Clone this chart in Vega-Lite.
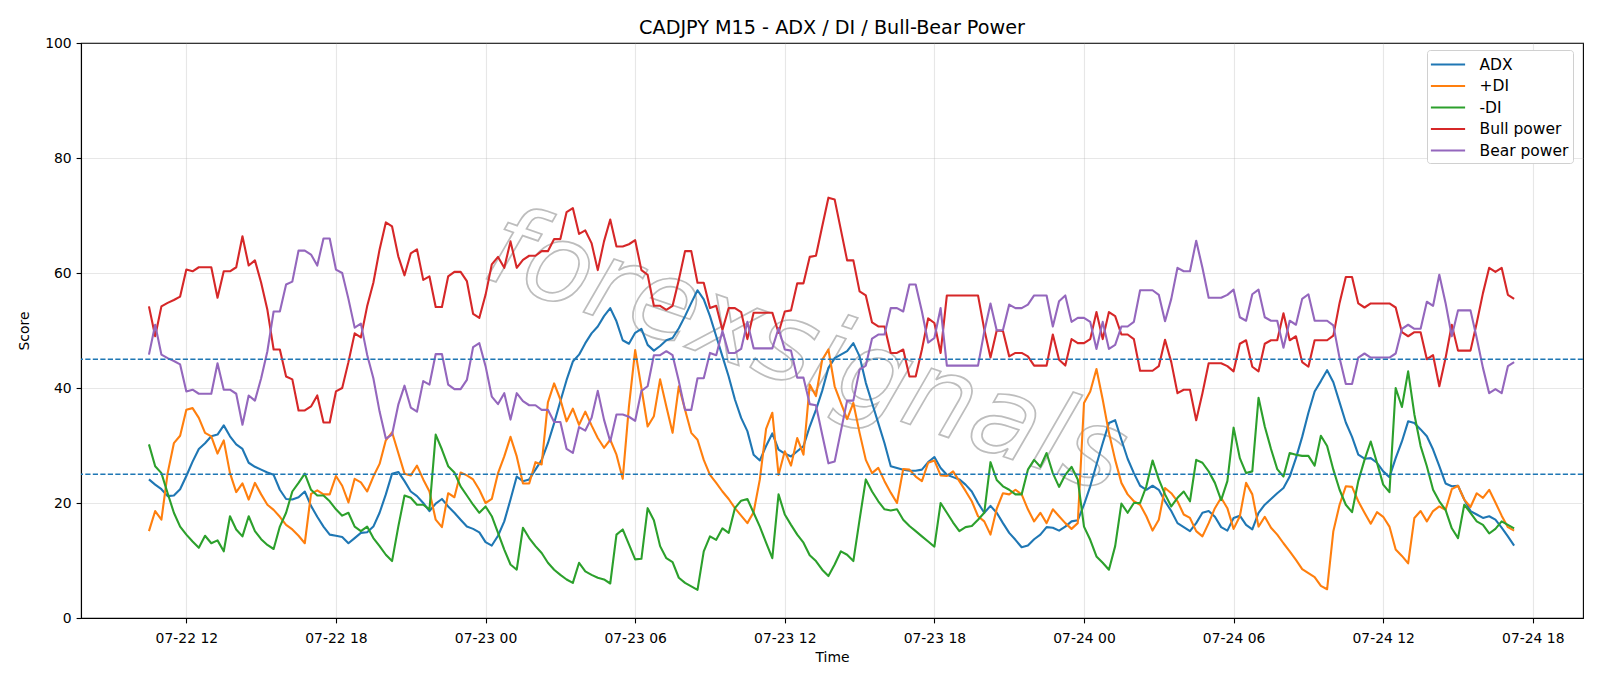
{
"$schema": "https://vega.github.io/schema/vega-lite/v6.json",
"width": 1502, "height": 575,
"autosize": {"type": "none"},
"padding": {"left": 81, "top": 43, "right": 17, "bottom": 68},
"background": "white",
"title": {"text": "CADJPY M15 - ADX / DI / Bull-Bear Power", "fontSize": 19.2, "font": "DejaVu Sans", "fontWeight": "normal", "color": "black", "anchor": "middle", "offset": -17, "baseline": "alphabetic"},
"config": {
  "font": "DejaVu Sans",
  "view": {"stroke": "black", "strokeWidth": 1.1},
  "axis": {"labelFont": "DejaVu Sans", "labelFontSize": 13.9, "labelColor": "black", "titleFont": "DejaVu Sans", "titleFontSize": 13.9, "titleFontWeight": "normal", "titleColor": "black", "tickColor": "black", "tickSize": 4.9, "tickWidth": 1.1, "domainColor": "black", "domainWidth": 1.1, "gridColor": "#b0b0b0", "gridOpacity": 0.3, "gridWidth": 1.1, "labelPadding": 4.9}
},
"datasets": {"d": [
{"t":"2025-07-22T10:30","adx":24.1,"pdi":15.1,"mdi":30.2,"bull":54.2,"bear":45.8},
{"t":"2025-07-22T10:45","adx":23.2,"pdi":18.6,"mdi":26.4,"bull":49.0,"bear":51.0},
{"t":"2025-07-22T11:00","adx":22.4,"pdi":17.1,"mdi":25.2,"bull":54.2,"bear":45.8},
{"t":"2025-07-22T11:15","adx":21.2,"pdi":25.2,"mdi":21.7,"bull":54.8,"bear":45.2},
{"t":"2025-07-22T11:30","adx":21.3,"pdi":30.4,"mdi":18.3,"bull":55.3,"bear":44.7},
{"t":"2025-07-22T11:45","adx":22.4,"pdi":31.7,"mdi":15.9,"bull":55.9,"bear":44.1},
{"t":"2025-07-22T12:00","adx":24.7,"pdi":36.2,"mdi":14.5,"bull":60.6,"bear":39.4},
{"t":"2025-07-22T12:15","adx":27.2,"pdi":36.5,"mdi":13.3,"bull":60.3,"bear":39.7},
{"t":"2025-07-22T12:30","adx":29.4,"pdi":34.8,"mdi":12.2,"bull":61.0,"bear":39.0},
{"t":"2025-07-22T12:45","adx":30.4,"pdi":32.2,"mdi":14.3,"bull":61.0,"bear":39.0},
{"t":"2025-07-22T13:00","adx":31.6,"pdi":31.6,"mdi":13.0,"bull":61.0,"bear":39.0},
{"t":"2025-07-22T13:15","adx":31.9,"pdi":28.6,"mdi":13.5,"bull":55.7,"bear":44.3},
{"t":"2025-07-22T13:30","adx":33.5,"pdi":30.9,"mdi":11.6,"bull":60.3,"bear":39.7},
{"t":"2025-07-22T13:45","adx":31.6,"pdi":25.2,"mdi":17.7,"bull":60.3,"bear":39.7},
{"t":"2025-07-22T14:00","adx":30.2,"pdi":21.9,"mdi":15.4,"bull":61.0,"bear":39.0},
{"t":"2025-07-22T14:15","adx":29.4,"pdi":23.4,"mdi":14.2,"bull":66.4,"bear":33.6},
{"t":"2025-07-22T14:30","adx":27.0,"pdi":20.6,"mdi":17.7,"bull":61.3,"bear":38.7},
{"t":"2025-07-22T14:45","adx":26.3,"pdi":23.5,"mdi":15.1,"bull":62.2,"bear":37.8},
{"t":"2025-07-22T15:00","adx":25.8,"pdi":21.5,"mdi":13.7,"bull":58.3,"bear":41.7},
{"t":"2025-07-22T15:15","adx":25.3,"pdi":19.7,"mdi":12.7,"bull":53.6,"bear":46.4},
{"t":"2025-07-22T15:30","adx":24.9,"pdi":18.8,"mdi":12.0,"bull":46.7,"bear":53.3},
{"t":"2025-07-22T15:45","adx":22.3,"pdi":17.6,"mdi":15.9,"bull":46.7,"bear":53.3},
{"t":"2025-07-22T16:00","adx":20.7,"pdi":16.2,"mdi":18.3,"bull":42.0,"bear":58.0},
{"t":"2025-07-22T16:15","adx":20.6,"pdi":15.4,"mdi":22.0,"bull":41.5,"bear":58.5},
{"t":"2025-07-22T16:30","adx":21.0,"pdi":14.3,"mdi":23.5,"bull":36.1,"bear":63.9},
{"t":"2025-07-22T16:45","adx":22.0,"pdi":13.0,"mdi":25.1,"bull":36.1,"bear":63.9},
{"t":"2025-07-22T17:00","adx":19.5,"pdi":21.6,"mdi":22.3,"bull":36.8,"bear":63.2},
{"t":"2025-07-22T17:15","adx":17.6,"pdi":22.2,"mdi":21.3,"bull":38.7,"bear":61.3},
{"t":"2025-07-22T17:30","adx":15.9,"pdi":21.5,"mdi":21.3,"bull":34.0,"bear":66.0},
{"t":"2025-07-22T17:45","adx":14.5,"pdi":21.5,"mdi":20.3,"bull":34.0,"bear":66.0},
{"t":"2025-07-22T18:00","adx":14.3,"pdi":24.7,"mdi":18.9,"bull":39.4,"bear":60.6},
{"t":"2025-07-22T18:15","adx":14.1,"pdi":23.0,"mdi":17.8,"bull":40.0,"bear":60.0},
{"t":"2025-07-22T18:30","adx":13.0,"pdi":20.1,"mdi":18.3,"bull":44.5,"bear":55.5},
{"t":"2025-07-22T18:45","adx":13.9,"pdi":24.2,"mdi":15.9,"bull":49.5,"bear":50.5},
{"t":"2025-07-22T19:00","adx":14.8,"pdi":23.6,"mdi":15.1,"bull":48.8,"bear":51.2},
{"t":"2025-07-22T19:15","adx":14.9,"pdi":22.0,"mdi":15.9,"bull":54.2,"bear":45.8},
{"t":"2025-07-22T19:30","adx":15.9,"pdi":24.6,"mdi":13.9,"bull":58.3,"bear":41.7},
{"t":"2025-07-22T19:45","adx":18.3,"pdi":26.8,"mdi":12.5,"bull":64.1,"bear":35.9},
{"t":"2025-07-22T20:00","adx":21.5,"pdi":30.9,"mdi":11.0,"bull":68.8,"bear":31.2},
{"t":"2025-07-22T20:15","adx":25.1,"pdi":32.3,"mdi":9.9,"bull":68.1,"bear":31.9},
{"t":"2025-07-22T20:30","adx":25.4,"pdi":28.7,"mdi":15.9,"bull":62.9,"bear":37.1},
{"t":"2025-07-22T20:45","adx":23.8,"pdi":25.1,"mdi":21.3,"bull":59.6,"bear":40.4},
{"t":"2025-07-22T21:00","adx":22.0,"pdi":24.8,"mdi":20.9,"bull":63.4,"bear":36.6},
{"t":"2025-07-22T21:15","adx":21.2,"pdi":26.5,"mdi":19.7,"bull":64.1,"bear":35.9},
{"t":"2025-07-22T21:30","adx":20.0,"pdi":24.1,"mdi":19.7,"bull":58.8,"bear":41.2},
{"t":"2025-07-22T21:45","adx":18.6,"pdi":22.0,"mdi":18.9,"bull":59.4,"bear":40.6},
{"t":"2025-07-22T22:00","adx":19.9,"pdi":17.1,"mdi":31.9,"bull":54.1,"bear":45.9},
{"t":"2025-07-22T22:15","adx":20.7,"pdi":15.8,"mdi":29.3,"bull":54.1,"bear":45.9},
{"t":"2025-07-22T22:30","adx":19.4,"pdi":21.7,"mdi":26.4,"bull":59.4,"bear":40.6},
{"t":"2025-07-22T22:45","adx":18.3,"pdi":21.0,"mdi":25.3,"bull":60.2,"bear":39.8},
{"t":"2025-07-22T23:00","adx":17.1,"pdi":25.3,"mdi":22.9,"bull":60.2,"bear":39.8},
{"t":"2025-07-22T23:15","adx":15.9,"pdi":24.8,"mdi":21.3,"bull":58.6,"bear":41.4},
{"t":"2025-07-22T23:30","adx":15.5,"pdi":24.1,"mdi":19.7,"bull":52.9,"bear":47.1},
{"t":"2025-07-22T23:45","adx":14.9,"pdi":22.3,"mdi":18.3,"bull":52.2,"bear":47.8},
{"t":"2025-07-23T00:00","adx":13.2,"pdi":20.0,"mdi":19.4,"bull":56.2,"bear":43.8},
{"t":"2025-07-23T00:15","adx":12.6,"pdi":20.7,"mdi":17.7,"bull":61.5,"bear":38.5},
{"t":"2025-07-23T00:30","adx":14.3,"pdi":25.2,"mdi":14.8,"bull":62.8,"bear":37.2},
{"t":"2025-07-23T00:45","adx":16.8,"pdi":28.1,"mdi":11.9,"bull":60.9,"bear":39.1},
{"t":"2025-07-23T01:00","adx":20.6,"pdi":31.5,"mdi":9.3,"bull":65.5,"bear":34.5},
{"t":"2025-07-23T01:15","adx":24.6,"pdi":28.1,"mdi":8.4,"bull":60.9,"bear":39.1},
{"t":"2025-07-23T01:30","adx":23.8,"pdi":23.4,"mdi":15.7,"bull":62.3,"bear":37.7},
{"t":"2025-07-23T01:45","adx":24.1,"pdi":23.4,"mdi":13.9,"bull":63.0,"bear":37.0},
{"t":"2025-07-23T02:00","adx":25.8,"pdi":27.1,"mdi":12.5,"bull":63.0,"bear":37.0},
{"t":"2025-07-23T02:15","adx":27.5,"pdi":26.7,"mdi":11.3,"bull":63.8,"bear":36.2},
{"t":"2025-07-23T02:30","adx":30.4,"pdi":37.5,"mdi":9.6,"bull":63.8,"bear":36.2},
{"t":"2025-07-23T02:45","adx":33.9,"pdi":40.8,"mdi":8.4,"bull":65.9,"bear":34.1},
{"t":"2025-07-23T03:00","adx":37.7,"pdi":38.0,"mdi":7.5,"bull":65.9,"bear":34.1},
{"t":"2025-07-23T03:15","adx":41.4,"pdi":34.2,"mdi":6.7,"bull":70.6,"bear":29.4},
{"t":"2025-07-23T03:30","adx":44.6,"pdi":36.4,"mdi":6.1,"bull":71.3,"bear":28.7},
{"t":"2025-07-23T03:45","adx":45.8,"pdi":33.6,"mdi":9.6,"bull":66.8,"bear":33.2},
{"t":"2025-07-23T04:00","adx":47.8,"pdi":35.9,"mdi":8.1,"bull":67.4,"bear":32.6},
{"t":"2025-07-23T04:15","adx":49.5,"pdi":33.5,"mdi":7.5,"bull":65.2,"bear":34.8},
{"t":"2025-07-23T04:30","adx":50.7,"pdi":31.3,"mdi":7.0,"bull":60.5,"bear":39.5},
{"t":"2025-07-23T04:45","adx":52.5,"pdi":29.6,"mdi":6.7,"bull":65.5,"bear":34.5},
{"t":"2025-07-23T05:00","adx":53.9,"pdi":31.0,"mdi":6.0,"bull":69.3,"bear":30.7},
{"t":"2025-07-23T05:15","adx":51.6,"pdi":28.4,"mdi":14.5,"bull":64.6,"bear":35.4},
{"t":"2025-07-23T05:30","adx":48.3,"pdi":24.2,"mdi":15.4,"bull":64.6,"bear":35.4},
{"t":"2025-07-23T05:45","adx":47.7,"pdi":36.8,"mdi":12.8,"bull":65.0,"bear":35.0},
{"t":"2025-07-23T06:00","adx":49.6,"pdi":46.6,"mdi":10.2,"bull":65.7,"bear":34.3},
{"t":"2025-07-23T06:15","adx":50.3,"pdi":40.0,"mdi":10.3,"bull":60.5,"bear":39.5},
{"t":"2025-07-23T06:30","adx":47.5,"pdi":33.3,"mdi":19.1,"bull":59.7,"bear":40.3},
{"t":"2025-07-23T06:45","adx":46.5,"pdi":35.1,"mdi":17.0,"bull":54.3,"bear":45.7},
{"t":"2025-07-23T07:00","adx":47.3,"pdi":41.5,"mdi":12.5,"bull":54.3,"bear":45.7},
{"t":"2025-07-23T07:15","adx":48.3,"pdi":36.8,"mdi":10.4,"bull":53.6,"bear":46.4},
{"t":"2025-07-23T07:30","adx":48.7,"pdi":32.2,"mdi":9.7,"bull":54.3,"bear":45.7},
{"t":"2025-07-23T07:45","adx":50.4,"pdi":40.3,"mdi":7.0,"bull":58.8,"bear":41.2},
{"t":"2025-07-23T08:00","adx":52.5,"pdi":36.2,"mdi":6.1,"bull":63.8,"bear":36.2},
{"t":"2025-07-23T08:15","adx":54.8,"pdi":32.2,"mdi":5.5,"bull":63.8,"bear":36.2},
{"t":"2025-07-23T08:30","adx":57.0,"pdi":31.0,"mdi":4.9,"bull":58.3,"bear":41.7},
{"t":"2025-07-23T08:45","adx":55.4,"pdi":27.5,"mdi":11.6,"bull":58.3,"bear":41.7},
{"t":"2025-07-23T09:00","adx":52.5,"pdi":24.9,"mdi":14.2,"bull":53.9,"bear":46.1},
{"t":"2025-07-23T09:15","adx":49.0,"pdi":23.5,"mdi":13.6,"bull":54.3,"bear":45.7},
{"t":"2025-07-23T09:30","adx":45.5,"pdi":22.0,"mdi":15.6,"bull":50.1,"bear":49.9},
{"t":"2025-07-23T09:45","adx":42.0,"pdi":20.7,"mdi":14.8,"bull":53.9,"bear":46.1},
{"t":"2025-07-23T10:00","adx":38.0,"pdi":19.1,"mdi":19.1,"bull":53.9,"bear":46.1},
{"t":"2025-07-23T10:15","adx":34.8,"pdi":17.8,"mdi":20.4,"bull":53.2,"bear":46.8},
{"t":"2025-07-23T10:30","adx":32.5,"pdi":16.5,"mdi":20.7,"bull":48.5,"bear":51.5},
{"t":"2025-07-23T10:45","adx":28.4,"pdi":18.4,"mdi":18.3,"bull":53.1,"bear":46.9},
{"t":"2025-07-23T11:00","adx":27.4,"pdi":24.1,"mdi":15.9,"bull":53.1,"bear":46.9},
{"t":"2025-07-23T11:15","adx":29.9,"pdi":32.9,"mdi":13.1,"bull":53.1,"bear":46.9},
{"t":"2025-07-23T11:30","adx":32.1,"pdi":35.7,"mdi":10.4,"bull":53.1,"bear":46.9},
{"t":"2025-07-23T11:45","adx":29.3,"pdi":24.9,"mdi":21.5,"bull":49.6,"bear":50.4},
{"t":"2025-07-23T12:00","adx":28.6,"pdi":29.0,"mdi":18.0,"bull":53.3,"bear":46.7},
{"t":"2025-07-23T12:15","adx":28.1,"pdi":26.5,"mdi":16.2,"bull":53.5,"bear":46.5},
{"t":"2025-07-23T12:30","adx":29.0,"pdi":31.3,"mdi":14.5,"bull":58.2,"bear":41.8},
{"t":"2025-07-23T12:45","adx":29.9,"pdi":28.4,"mdi":13.1,"bull":58.2,"bear":41.8},
{"t":"2025-07-23T13:00","adx":33.3,"pdi":40.6,"mdi":10.9,"bull":62.8,"bear":37.2},
{"t":"2025-07-23T13:15","adx":36.2,"pdi":38.6,"mdi":9.9,"bull":63.0,"bear":37.0},
{"t":"2025-07-23T13:30","adx":39.5,"pdi":44.9,"mdi":8.4,"bull":68.1,"bear":31.9},
{"t":"2025-07-23T13:45","adx":43.5,"pdi":46.7,"mdi":7.3,"bull":73.1,"bear":26.9},
{"t":"2025-07-23T14:00","adx":45.2,"pdi":40.3,"mdi":9.3,"bull":72.8,"bear":27.2},
{"t":"2025-07-23T14:15","adx":45.8,"pdi":37.4,"mdi":11.6,"bull":67.5,"bear":32.5},
{"t":"2025-07-23T14:30","adx":46.4,"pdi":34.6,"mdi":11.0,"bull":62.2,"bear":37.8},
{"t":"2025-07-23T14:45","adx":47.8,"pdi":37.4,"mdi":9.9,"bull":62.2,"bear":37.8},
{"t":"2025-07-23T15:00","adx":45.5,"pdi":32.2,"mdi":17.1,"bull":56.8,"bear":43.2},
{"t":"2025-07-23T15:15","adx":40.9,"pdi":27.5,"mdi":24.1,"bull":56.1,"bear":43.9},
{"t":"2025-07-23T15:30","adx":37.4,"pdi":25.2,"mdi":22.0,"bull":51.4,"bear":48.6},
{"t":"2025-07-23T15:45","adx":33.9,"pdi":26.1,"mdi":20.3,"bull":50.7,"bear":49.3},
{"t":"2025-07-23T16:00","adx":30.4,"pdi":23.8,"mdi":18.9,"bull":50.7,"bear":49.3},
{"t":"2025-07-23T16:15","adx":26.4,"pdi":21.8,"mdi":18.7,"bull":46.1,"bear":53.9},
{"t":"2025-07-23T16:30","adx":26.1,"pdi":20.0,"mdi":18.9,"bull":46.1,"bear":53.9},
{"t":"2025-07-23T16:45","adx":25.8,"pdi":25.9,"mdi":17.1,"bull":46.7,"bear":53.3},
{"t":"2025-07-23T17:00","adx":25.6,"pdi":25.8,"mdi":16.0,"bull":42.0,"bear":58.0},
{"t":"2025-07-23T17:15","adx":25.6,"pdi":24.6,"mdi":15.1,"bull":42.0,"bear":58.0},
{"t":"2025-07-23T17:30","adx":25.8,"pdi":23.8,"mdi":14.2,"bull":46.7,"bear":53.3},
{"t":"2025-07-23T17:45","adx":27.1,"pdi":27.0,"mdi":13.3,"bull":52.1,"bear":47.9},
{"t":"2025-07-23T18:00","adx":28.0,"pdi":27.4,"mdi":12.4,"bull":51.3,"bear":48.7},
{"t":"2025-07-23T18:15","adx":26.1,"pdi":24.8,"mdi":20.0,"bull":46.1,"bear":53.9},
{"t":"2025-07-23T18:30","adx":24.9,"pdi":24.7,"mdi":18.3,"bull":56.1,"bear":43.9},
{"t":"2025-07-23T18:45","adx":24.5,"pdi":25.5,"mdi":16.6,"bull":56.1,"bear":43.9},
{"t":"2025-07-23T19:00","adx":24.1,"pdi":23.8,"mdi":15.1,"bull":56.1,"bear":43.9},
{"t":"2025-07-23T19:15","adx":23.2,"pdi":22.1,"mdi":15.8,"bull":56.1,"bear":43.9},
{"t":"2025-07-23T19:30","adx":22.0,"pdi":20.3,"mdi":16.0,"bull":56.1,"bear":43.9},
{"t":"2025-07-23T19:45","adx":20.0,"pdi":17.7,"mdi":17.1,"bull":56.1,"bear":43.9},
{"t":"2025-07-23T20:00","adx":18.3,"pdi":16.8,"mdi":18.3,"bull":50.2,"bear":49.8},
{"t":"2025-07-23T20:15","adx":19.5,"pdi":14.5,"mdi":27.1,"bull":45.3,"bear":54.7},
{"t":"2025-07-23T20:30","adx":18.3,"pdi":19.0,"mdi":24.0,"bull":50.0,"bear":50.0},
{"t":"2025-07-23T20:45","adx":16.5,"pdi":21.7,"mdi":22.9,"bull":49.9,"bear":50.1},
{"t":"2025-07-23T21:00","adx":14.8,"pdi":21.5,"mdi":22.3,"bull":45.5,"bear":54.5},
{"t":"2025-07-23T21:15","adx":13.6,"pdi":22.3,"mdi":21.5,"bull":46.1,"bear":53.9},
{"t":"2025-07-23T21:30","adx":12.3,"pdi":21.5,"mdi":21.5,"bull":46.1,"bear":53.9},
{"t":"2025-07-23T21:45","adx":12.6,"pdi":18.9,"mdi":25.8,"bull":45.5,"bear":54.5},
{"t":"2025-07-23T22:00","adx":13.7,"pdi":16.8,"mdi":27.5,"bull":43.9,"bear":56.1},
{"t":"2025-07-23T22:15","adx":14.5,"pdi":18.3,"mdi":26.3,"bull":43.9,"bear":56.1},
{"t":"2025-07-23T22:30","adx":15.8,"pdi":16.5,"mdi":28.7,"bull":43.9,"bear":56.1},
{"t":"2025-07-23T22:45","adx":15.7,"pdi":18.9,"mdi":25.2,"bull":49.3,"bear":50.7},
{"t":"2025-07-23T23:00","adx":15.2,"pdi":17.7,"mdi":22.8,"bull":44.9,"bear":55.1},
{"t":"2025-07-23T23:15","adx":15.9,"pdi":16.5,"mdi":24.9,"bull":43.9,"bear":56.1},
{"t":"2025-07-23T23:30","adx":16.8,"pdi":15.5,"mdi":26.3,"bull":48.5,"bear":51.5},
{"t":"2025-07-23T23:45","adx":17.0,"pdi":16.5,"mdi":24.1,"bull":47.8,"bear":52.2},
{"t":"2025-07-24T00:00","adx":19.7,"pdi":37.4,"mdi":15.9,"bull":47.8,"bear":52.2},
{"t":"2025-07-24T00:15","adx":22.9,"pdi":39.4,"mdi":13.6,"bull":48.5,"bear":51.5},
{"t":"2025-07-24T00:30","adx":26.7,"pdi":43.3,"mdi":10.7,"bull":53.2,"bear":46.8},
{"t":"2025-07-24T00:45","adx":30.4,"pdi":38.0,"mdi":9.6,"bull":48.5,"bear":51.5},
{"t":"2025-07-24T01:00","adx":33.9,"pdi":32.2,"mdi":8.4,"bull":53.2,"bear":46.8},
{"t":"2025-07-24T01:15","adx":34.4,"pdi":27.5,"mdi":12.5,"bull":52.5,"bear":47.5},
{"t":"2025-07-24T01:30","adx":31.0,"pdi":23.5,"mdi":19.9,"bull":49.3,"bear":50.7},
{"t":"2025-07-24T01:45","adx":27.7,"pdi":21.5,"mdi":18.3,"bull":49.3,"bear":50.7},
{"t":"2025-07-24T02:00","adx":25.2,"pdi":20.3,"mdi":20.0,"bull":48.5,"bear":51.5},
{"t":"2025-07-24T02:15","adx":23.0,"pdi":19.7,"mdi":20.0,"bull":43.0,"bear":57.0},
{"t":"2025-07-24T02:30","adx":22.3,"pdi":17.7,"mdi":22.9,"bull":43.0,"bear":57.0},
{"t":"2025-07-24T02:45","adx":23.0,"pdi":15.2,"mdi":27.4,"bull":43.0,"bear":57.0},
{"t":"2025-07-24T03:00","adx":22.3,"pdi":17.1,"mdi":24.1,"bull":43.8,"bear":56.2},
{"t":"2025-07-24T03:15","adx":20.3,"pdi":22.6,"mdi":21.5,"bull":48.4,"bear":51.6},
{"t":"2025-07-24T03:30","adx":18.6,"pdi":21.7,"mdi":19.4,"bull":44.5,"bear":55.5},
{"t":"2025-07-24T03:45","adx":16.5,"pdi":20.3,"mdi":20.9,"bull":39.1,"bear":60.9},
{"t":"2025-07-24T04:00","adx":15.8,"pdi":18.0,"mdi":22.0,"bull":39.7,"bear":60.3},
{"t":"2025-07-24T04:15","adx":15.1,"pdi":17.4,"mdi":20.3,"bull":39.7,"bear":60.3},
{"t":"2025-07-24T04:30","adx":16.5,"pdi":15.1,"mdi":27.5,"bull":34.4,"bear":65.6},
{"t":"2025-07-24T04:45","adx":18.3,"pdi":14.2,"mdi":27.0,"bull":39.1,"bear":60.9},
{"t":"2025-07-24T05:00","adx":18.6,"pdi":16.5,"mdi":25.5,"bull":44.3,"bear":55.7},
{"t":"2025-07-24T05:15","adx":17.6,"pdi":19.1,"mdi":23.5,"bull":44.3,"bear":55.7},
{"t":"2025-07-24T05:30","adx":15.8,"pdi":20.9,"mdi":20.5,"bull":44.3,"bear":55.7},
{"t":"2025-07-24T05:45","adx":15.2,"pdi":19.1,"mdi":23.8,"bull":43.8,"bear":56.2},
{"t":"2025-07-24T06:00","adx":17.4,"pdi":15.5,"mdi":33.1,"bull":42.9,"bear":57.1},
{"t":"2025-07-24T06:15","adx":17.8,"pdi":17.7,"mdi":27.8,"bull":47.7,"bear":52.3},
{"t":"2025-07-24T06:30","adx":16.2,"pdi":23.5,"mdi":25.2,"bull":48.3,"bear":51.7},
{"t":"2025-07-24T06:45","adx":15.4,"pdi":21.5,"mdi":25.5,"bull":43.7,"bear":56.3},
{"t":"2025-07-24T07:00","adx":18.3,"pdi":15.9,"mdi":38.3,"bull":42.9,"bear":57.1},
{"t":"2025-07-24T07:15","adx":19.7,"pdi":17.6,"mdi":33.3,"bull":47.7,"bear":52.3},
{"t":"2025-07-24T07:30","adx":20.7,"pdi":15.7,"mdi":29.4,"bull":48.3,"bear":51.7},
{"t":"2025-07-24T07:45","adx":21.7,"pdi":14.5,"mdi":25.9,"bull":48.3,"bear":51.7},
{"t":"2025-07-24T08:00","adx":22.6,"pdi":13.0,"mdi":24.6,"bull":53.0,"bear":47.0},
{"t":"2025-07-24T08:15","adx":24.6,"pdi":11.6,"mdi":28.7,"bull":48.3,"bear":51.7},
{"t":"2025-07-24T08:30","adx":27.8,"pdi":10.1,"mdi":28.4,"bull":49.0,"bear":51.0},
{"t":"2025-07-24T08:45","adx":31.5,"pdi":8.5,"mdi":28.2,"bull":44.5,"bear":55.5},
{"t":"2025-07-24T09:00","adx":35.7,"pdi":7.8,"mdi":28.2,"bull":43.7,"bear":56.3},
{"t":"2025-07-24T09:15","adx":39.4,"pdi":7.1,"mdi":26.5,"bull":48.3,"bear":51.7},
{"t":"2025-07-24T09:30","adx":41.2,"pdi":5.6,"mdi":31.7,"bull":48.3,"bear":51.7},
{"t":"2025-07-24T09:45","adx":43.1,"pdi":5.0,"mdi":29.9,"bull":48.3,"bear":51.7},
{"t":"2025-07-24T10:00","adx":41.0,"pdi":15.1,"mdi":25.8,"bull":49.1,"bear":50.9},
{"t":"2025-07-24T10:15","adx":37.5,"pdi":19.7,"mdi":22.3,"bull":54.8,"bear":45.2},
{"t":"2025-07-24T10:30","adx":34.0,"pdi":22.9,"mdi":19.7,"bull":59.3,"bear":40.7},
{"t":"2025-07-24T10:45","adx":31.5,"pdi":22.8,"mdi":18.4,"bull":59.3,"bear":40.7},
{"t":"2025-07-24T11:00","adx":28.4,"pdi":20.3,"mdi":23.8,"bull":54.7,"bear":45.3},
{"t":"2025-07-24T11:15","adx":27.7,"pdi":18.3,"mdi":27.5,"bull":54.0,"bear":46.0},
{"t":"2025-07-24T11:30","adx":27.8,"pdi":16.4,"mdi":30.7,"bull":54.7,"bear":45.3},
{"t":"2025-07-24T11:45","adx":27.0,"pdi":18.4,"mdi":27.0,"bull":54.7,"bear":45.3},
{"t":"2025-07-24T12:00","adx":25.5,"pdi":17.6,"mdi":23.2,"bull":54.7,"bear":45.3},
{"t":"2025-07-24T12:15","adx":24.5,"pdi":15.9,"mdi":21.9,"bull":54.7,"bear":45.3},
{"t":"2025-07-24T12:30","adx":27.8,"pdi":11.9,"mdi":40.0,"bull":54.0,"bear":46.0},
{"t":"2025-07-24T12:45","adx":30.7,"pdi":10.8,"mdi":36.7,"bull":49.7,"bear":50.3},
{"t":"2025-07-24T13:00","adx":34.2,"pdi":9.5,"mdi":42.9,"bull":49.0,"bear":51.0},
{"t":"2025-07-24T13:15","adx":33.9,"pdi":17.4,"mdi":35.4,"bull":49.7,"bear":50.3},
{"t":"2025-07-24T13:30","adx":32.8,"pdi":18.6,"mdi":29.9,"bull":49.7,"bear":50.3},
{"t":"2025-07-24T13:45","adx":31.6,"pdi":16.8,"mdi":26.4,"bull":45.0,"bear":55.0},
{"t":"2025-07-24T14:00","adx":29.3,"pdi":18.6,"mdi":22.3,"bull":45.7,"bear":54.3},
{"t":"2025-07-24T14:15","adx":26.4,"pdi":19.4,"mdi":20.3,"bull":40.3,"bear":59.7},
{"t":"2025-07-24T14:30","adx":23.4,"pdi":18.8,"mdi":18.8,"bull":45.2,"bear":54.8},
{"t":"2025-07-24T14:45","adx":22.9,"pdi":22.4,"mdi":15.6,"bull":51.0,"bear":49.0},
{"t":"2025-07-24T15:00","adx":23.0,"pdi":23.0,"mdi":13.9,"bull":46.5,"bear":53.5},
{"t":"2025-07-24T15:15","adx":20.6,"pdi":20.6,"mdi":19.7,"bull":46.5,"bear":53.5},
{"t":"2025-07-24T15:30","adx":18.6,"pdi":19.3,"mdi":18.3,"bull":46.5,"bear":53.5},
{"t":"2025-07-24T15:45","adx":18.0,"pdi":21.7,"mdi":16.8,"bull":51.3,"bear":48.7},
{"t":"2025-07-24T16:00","adx":17.4,"pdi":20.9,"mdi":16.2,"bull":56.5,"bear":43.5},
{"t":"2025-07-24T16:15","adx":17.7,"pdi":22.3,"mdi":14.7,"bull":60.9,"bear":39.1},
{"t":"2025-07-24T16:30","adx":17.1,"pdi":20.1,"mdi":15.5,"bull":60.2,"bear":39.8},
{"t":"2025-07-24T16:45","adx":15.7,"pdi":17.8,"mdi":16.8,"bull":60.9,"bear":39.1},
{"t":"2025-07-24T17:00","adx":14.2,"pdi":15.8,"mdi":16.2,"bull":56.2,"bear":43.8},
{"t":"2025-07-24T17:15","adx":12.6,"pdi":15.2,"mdi":15.6,"bull":55.5,"bear":44.5}
]},
"layer": [
  {
    "data": {"values": [{"label": "forexsignals"}]},
    "mark": {"type": "text", "font": "DejaVu Sans", "fontStyle": "italic", "fontSize": 110, "angle": 19, "align": "center", "baseline": "middle", "fill": "white", "fillOpacity": 0, "stroke": "#bdbdbd", "strokeWidth": 1.7},
    "encoding": {
      "x": {"datum": {"year": 2025, "month": 7, "date": 23, "hours": 12, "minutes": 50}, "type": "temporal"},
      "y": {"datum": 46, "type": "quantitative"},
      "text": {"field": "label"}
    }
  },
  {
    "data": {"name": "d"},
    "transform": [{"fold": ["adx", "pdi", "mdi", "bull", "bear"], "as": ["series", "value"]}],
    "mark": {"type": "line", "strokeWidth": 2.1, "strokeJoin": "round"},
    "encoding": {
      "x": {"field": "t", "type": "temporal", "title": "Time",
        "scale": {"domain": [{"year": 2025, "month": 7, "date": 22, "hours": 7, "minutes": 46, "seconds": 30}, {"year": 2025, "month": 7, "date": 24, "hours": 20, "minutes": 0, "seconds": 45}]},
        "axis": {"format": "%m-%d %H", "grid": true, "labelPadding": 9, "titlePadding": 5, "labelFlush": false,
          "values": [{"year": 2025, "month": 7, "date": 22, "hours": 12}, {"year": 2025, "month": 7, "date": 22, "hours": 18}, {"year": 2025, "month": 7, "date": 23, "hours": 0}, {"year": 2025, "month": 7, "date": 23, "hours": 6}, {"year": 2025, "month": 7, "date": 23, "hours": 12}, {"year": 2025, "month": 7, "date": 23, "hours": 18}, {"year": 2025, "month": 7, "date": 24, "hours": 0}, {"year": 2025, "month": 7, "date": 24, "hours": 6}, {"year": 2025, "month": 7, "date": 24, "hours": 12}, {"year": 2025, "month": 7, "date": 24, "hours": 18}]}},
      "y": {"field": "value", "type": "quantitative", "title": "Score", "scale": {"domain": [0, 100], "nice": false}, "axis": {"values": [0, 20, 40, 60, 80, 100], "grid": true, "titlePadding": 13}},
      "color": {"field": "series", "type": "nominal",
        "scale": {"domain": ["adx", "pdi", "mdi", "bull", "bear"], "range": ["#1f77b4", "#ff7f0e", "#2ca02c", "#d62728", "#9467bd"]},
        "legend": {"title": null, "orient": "none", "legendX": 1346, "legendY": 7,
          "labelExpr": "{'adx':'ADX','pdi':'+DI','mdi':'-DI','bull':'Bull power','bear':'Bear power'}[datum.label]",
          "symbolType": "M-1.9,0L1.9,0", "symbolSize": 324, "symbolStrokeWidth": 2.1,
          "symbolOffset": 6.5,
          "labelFont": "DejaVu Sans", "labelFontSize": 15.5, "labelColor": "black", "labelOffset": 21,
          "padding": 4, "rowPadding": 2.5, "strokeColor": "#d0d0d0", "fillColor": "white", "cornerRadius": 3}}
    }
  },
  {
    "data": {"values": [{}]},
    "mark": {"type": "rule", "color": "#1f77b4", "strokeWidth": 1.4, "strokeDash": [5.2, 2.3]},
    "encoding": {"y": {"datum": 45, "type": "quantitative"}}
  },
  {
    "data": {"values": [{}]},
    "mark": {"type": "rule", "color": "#1f77b4", "strokeWidth": 1.4, "strokeDash": [5.2, 2.3]},
    "encoding": {"y": {"datum": 25, "type": "quantitative"}}
  }
]
}
